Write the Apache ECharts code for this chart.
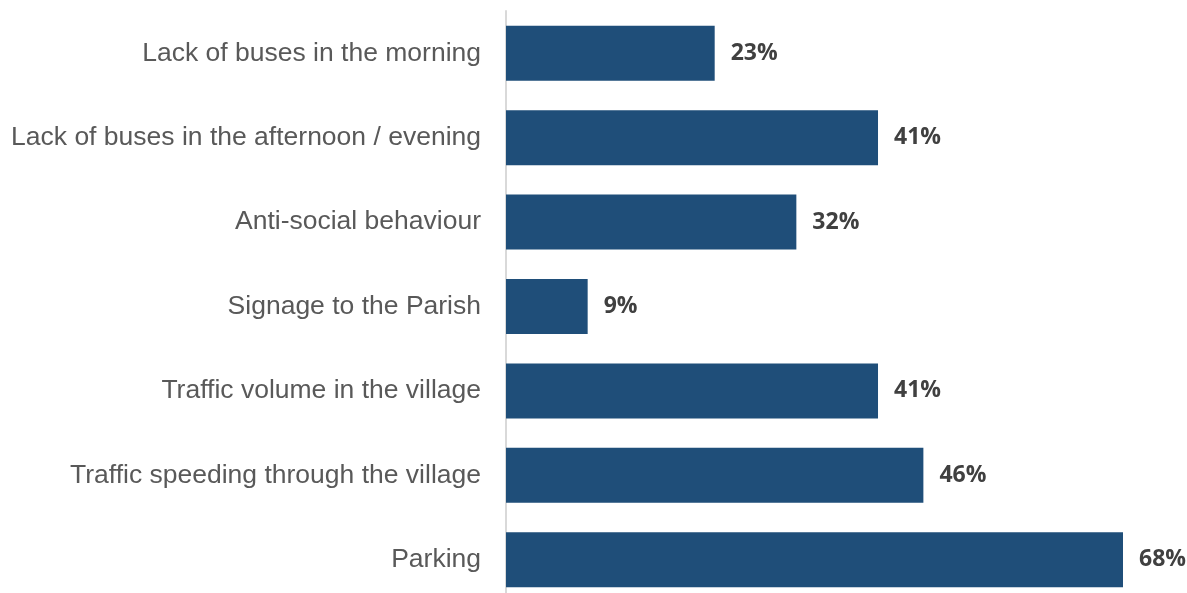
<!DOCTYPE html>
<html><head><meta charset="utf-8">
<script src="https://cdn.jsdelivr.net/npm/echarts@6/dist/echarts.min.js"></script>
<style>html,body{margin:0;padding:0;background:#fff;overflow:hidden}#c{width:1187px;height:620px}</style>
</head><body><div id="c"></div>
<script>
const categories = ["Lack of buses in the morning","Lack of buses in the afternoon / evening","Anti-social behaviour","Signage to the Parish","Traffic volume in the village","Traffic speeding through the village","Parking"];
const values = [23,41,32,9,41,46,68];
const chart = echarts.init(document.getElementById('c'));
chart.setOption({
  animation:false,
  grid:{left:506,top:11,width:617,height:591,containLabel:false},
  xAxis:{type:'value',min:0,max:68,show:false},
  yAxis:{type:'category',data:categories,inverse:true,
    axisLine:{show:true,lineStyle:{color:'#d9d9d9',width:2}},
    axisTick:{show:false},
    axisLabel:{margin:25,color:'#595959',fontSize:26.5,fontFamily:'Liberation Sans, Arial, sans-serif'}},
  series:[{type:'bar',data:values,barWidth:55,
    itemStyle:{color:'#1F4E79'},
    label:{show:true,position:'right',distance:16,formatter:'{c}%',color:'#404040',fontSize:23,fontWeight:'bold',fontFamily:'Open Sans, sans-serif'}}]
});
</script></body></html>
